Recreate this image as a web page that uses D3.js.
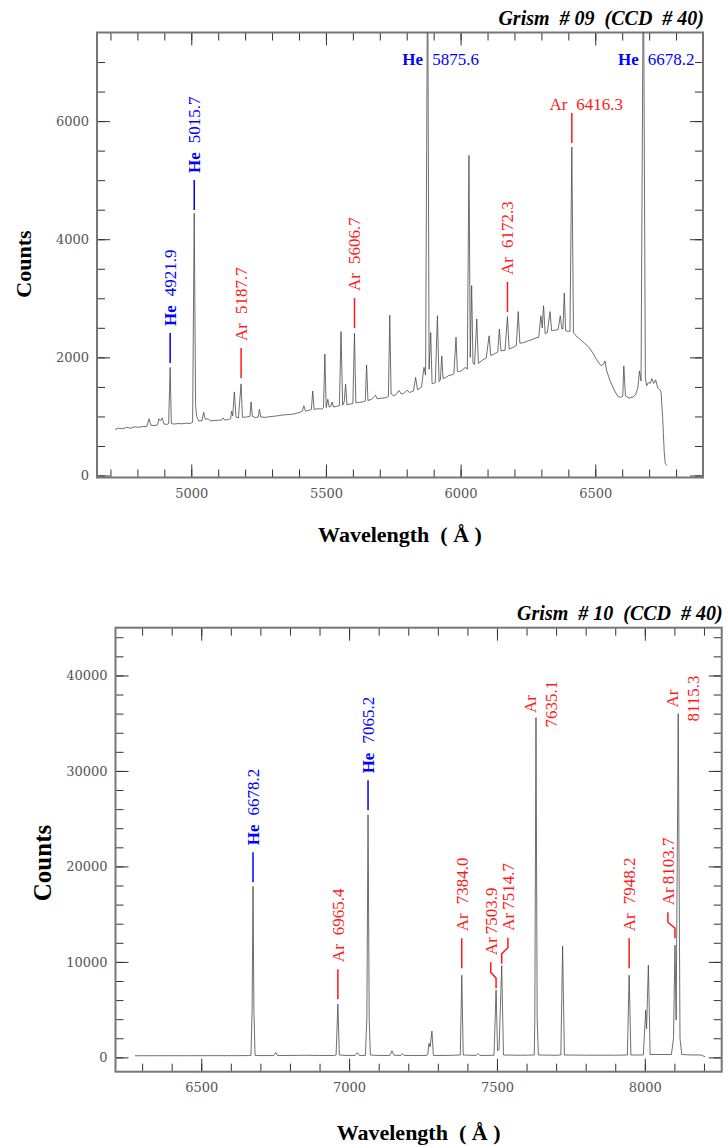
<!DOCTYPE html>
<html>
<head>
<meta charset="utf-8">
<script src="https://cdn.jsdelivr.net/npm/d3@7"></script>
<style>
body { margin: 0; background: #fff; }
svg { display: block; }
text { white-space: pre; }
</style>
</head>
<body>
<svg id="drawing_region"></svg>
<script>
// Grism #09 arc spectrum: [wavelength (A), counts]
const spec09 = [
  [4717, 780], [4730, 800], [4745, 790], [4760, 815], [4775, 800], [4790, 825], [4805, 815], [4820, 830],
  [4835, 830], [4843, 960], [4850, 850], [4865, 845], [4875, 860], [4880, 960], [4886, 925], [4892, 975],
  [4899, 870], [4910, 865], [4916, 880], [4921.6, 1830], [4926, 885], [4935, 870], [4950, 880], [4965, 875],
  [4980, 885], [4995, 880], [5005, 900], [5011, 4440], [5016, 1200], [5020, 1000], [5028, 920], [5040, 930],
  [5046, 1070], [5052, 950], [5062, 960], [5070, 925], [5085, 930], [5100, 935], [5113, 940], [5118, 975],
  [5124, 940], [5138, 945], [5146, 960], [5150, 1090], [5154, 1010], [5160, 1415], [5166, 990], [5175, 975],
  [5185, 1550], [5190, 985], [5205, 990], [5218, 1000], [5222, 1245], [5227, 1000], [5240, 980], [5249, 995],
  [5253, 1120], [5258, 990], [5275, 985], [5300, 1000], [5320, 1010], [5340, 1025], [5360, 1030], [5380, 1040],
  [5395, 1060], [5405, 1070], [5412, 1090], [5418, 1180], [5424, 1090], [5435, 1100], [5446, 1120], [5451, 1430],
  [5456, 1120], [5470, 1130], [5485, 1125], [5491, 1150], [5496, 2055], [5501, 1150], [5507, 1290], [5512, 1160],
  [5518, 1170], [5523, 1245], [5528, 1160], [5540, 1170], [5550, 1180], [5556, 2435], [5562, 1190], [5568, 1250],
  [5573, 1545], [5578, 1200], [5590, 1210], [5600, 1220], [5606, 2407], [5611, 1230], [5625, 1240], [5640, 1250],
  [5646, 1260], [5651, 1870], [5656, 1270], [5670, 1290], [5684, 1360], [5690, 1300], [5710, 1310], [5725, 1320],
  [5732, 1340], [5737, 2715], [5742, 1380], [5752, 1350], [5760, 1370], [5771, 1440], [5780, 1380], [5790, 1390],
  [5802, 1445], [5810, 1405], [5825, 1430], [5833, 1660], [5840, 1450], [5855, 1500], [5864, 1830], [5870, 1700],
  [5877.6, 9000], [5883, 1800], [5889, 2420], [5894, 1560], [5900, 1560], [5906, 1570], [5914, 2705], [5920, 1590],
  [5925, 1620], [5930, 2025], [5935, 1640], [5945, 1660], [5955, 1690], [5965, 1700], [5975, 1720], [5983, 2340],
  [5988, 1760], [5995, 1760], [6005, 1780], [6012, 1810], [6019, 1830], [6025, 1800], [6031, 5420], [6036, 2000],
  [6041, 3215], [6046, 1900], [6052, 1880], [6060, 2650], [6066, 1900], [6080, 1950], [6095, 1990], [6106, 2365],
  [6112, 2030], [6125, 2060], [6138, 2090], [6144, 2480], [6150, 2110], [6165, 2120], [6174, 2690], [6180, 2140],
  [6195, 2170], [6207, 2200], [6214, 2775], [6220, 2240], [6235, 2250], [6250, 2280], [6265, 2300], [6280, 2330],
  [6290, 2340], [6298, 2705], [6303, 2500], [6308, 2875], [6314, 2400], [6322, 2420], [6332, 2775], [6338, 2450],
  [6350, 2460], [6362, 2470], [6370, 2705], [6376, 2480], [6380, 2480], [6385, 3090], [6390, 2450], [6400, 2440],
  [6406, 2440], [6413, 5560], [6419, 2420], [6428, 2365], [6445, 2300], [6460, 2240], [6475, 2180], [6490, 2080],
  [6505, 1960], [6521, 1860], [6530, 1880], [6536, 1940], [6542, 1780], [6555, 1600], [6570, 1450], [6583, 1345],
  [6595, 1320], [6602, 1340], [6606, 1855], [6612, 1350], [6625, 1310], [6640, 1330], [6650, 1370], [6658, 1480],
  [6664, 1770], [6670, 1600], [6678.6, 9000], [6686, 1650], [6691, 1520], [6697, 1575], [6704, 1560], [6710, 1640],
  [6717, 1560], [6724, 1620], [6732, 1480], [6744, 1430], [6750, 1000], [6756, 400], [6760, 200], [6767, 170]
];

// Grism #10 arc spectrum: [wavelength (A), counts]
const spec10 = [
  [6276, 170], [6350, 175], [6450, 175], [6550, 180], [6620, 180], [6660, 190], [6668, 200], [6672, 5000],
  [6675, 17920], [6678, 5000], [6682, 200], [6700, 190], [6745, 190], [6752, 520], [6758, 190], [6800, 200],
  [6850, 220], [6900, 200], [6950, 200], [6956, 250], [6962, 5580], [6967, 250], [6990, 200], [7020, 200],
  [7028, 500], [7035, 200], [7055, 200], [7060, 4000], [7064, 25400], [7068, 4000], [7072, 250], [7100, 200],
  [7138, 200], [7145, 690], [7152, 220], [7175, 200], [7180, 400], [7186, 200], [7260, 200], [7266, 300],
  [7270, 1460], [7274, 1100], [7280, 2750], [7285, 200], [7330, 200], [7376, 250], [7381, 8600], [7386, 250],
  [7430, 200], [7436, 400], [7442, 200], [7490, 220], [7497, 7040], [7502, 700], [7507, 800], [7516, 9600],
  [7522, 250], [7580, 220], [7626, 250], [7628, 4000], [7632, 35600], [7636, 4000], [7640, 250], [7700, 220],
  [7716, 250], [7722, 11640], [7728, 250], [7800, 230], [7900, 230], [7941, 250], [7947, 8600], [7953, 250],
  [7995, 250], [8003, 4950], [8006, 3000], [8012, 9650], [8018, 300], [8090, 300], [8097, 2000], [8102, 11750],
  [8106, 3900], [8113, 36000], [8119, 2000], [8125, 300], [8160, 250], [8190, 250], [8204, 60]
];

// line identifications (wl = line position, at = label level in counts)
const labels09 = [
  { el: 'He', num: '4921.9', wl: 4921.6, at: 1905, kind: 'up' },
  { el: 'He', num: '5015.7', wl: 5011, at: 4495, kind: 'up' },
  { el: 'Ar', num: '5187.7', wl: 5185, at: 1651, kind: 'up' },
  { el: 'Ar', num: '5606.7', wl: 5606, at: 2497, kind: 'up' },
  { el: 'Ar', num: '6172.3', wl: 6174, at: 2768, kind: 'up' },
  { el: 'He', num: '5875.6', wl: 5877.6, at: 6950, kind: 'flat' },
  { el: 'Ar', num: '6416.3', wl: 6413, at: 6188, kind: 'flat', mark: true },
  { el: 'He', num: '6678.2', wl: 6678.6, at: 6950, kind: 'flat' }
];

const labels10 = [
  { el: 'He', num: '6678.2', wl: 6675, at: 18340, kind: 'up' },
  { el: 'Ar', num: '6965.4', wl: 6962, at: 6100, kind: 'up' },
  { el: 'He', num: '7065.2', wl: 7064, at: 25870, kind: 'up' },
  { el: 'Ar', num: '7384.0', wl: 7381, at: 9340, kind: 'up' },
  { el: 'Ar', num: '7503.9', wl: 7497, twl: 7479, at: 7250, kind: 'bent' },
  { el: 'Ar', num: '7514.7', wl: 7516, twl: 7537, at: 9800, kind: 'bent' },
  { el: 'Ar', num: '7635.1', wl: 7632, at: 37000, kind: 'stack' },
  { el: 'Ar', num: '7948.2', wl: 7947, at: 9340, kind: 'up' },
  { el: 'Ar', num: '8103.7', wl: 8102, twl: 8078, at: 12480, kind: 'bent' },
  { el: 'Ar', num: '8115.3', wl: 8112, at: 37580, kind: 'stack' }
];

// tick labels
const xLabels09 = [5000, 5500, 6000, 6500];
const yLabels09 = [0, 2000, 4000, 6000];
const xLabels10 = [6500, 7000, 7500, 8000];
const yLabels10 = [0, 10000, 20000, 30000, 40000];

const svg = d3.select('#drawing_region')
  .attr('width', 727)
  .attr('height', 1146);

const SERIF = '"Liberation Serif", "Times New Roman", serif';

function drawPanel(cfg) {
  const w = cfg.right - cfg.left;
  const h = cfg.bottom - cfg.top;

  const x = d3.scaleLinear().domain(cfg.xdom).range([0, w]);
  const y = d3.scaleLinear().domain(cfg.ydom).range([h, 0]);

  const g = svg.append('g')
    .attr('transform', `translate(${cfg.left},${cfg.top})`);

  g.append('clipPath').attr('id', cfg.id + '_clip')
    .append('rect').attr('width', w).attr('height', h);

  // ticks: inward on all four sides
  const xMinor = d3.range(cfg.xMinor[0], cfg.xdom[1], cfg.xMinor[1]);
  const yMinor = d3.range(0, cfg.ydom[1], cfg.yMinor);
  const axes = [
    [d3.axisBottom(x).tickValues(xMinor).tickSize(-8).tickFormat(''), h],
    [d3.axisBottom(x).tickValues(cfg.xLabels).tickSize(-13).tickPadding(11).tickFormat(d3.format('d')), h],
    [d3.axisTop(x).tickValues(xMinor).tickSize(-8).tickFormat(''), 0],
    [d3.axisTop(x).tickValues(cfg.xLabels).tickSize(-13).tickFormat(''), 0]
  ];
  axes.forEach(([ax, ty]) => {
    g.append('g').attr('class', 'axis').attr('transform', `translate(0,${ty})`).call(ax);
  });
  const yaxes = [
    [d3.axisLeft(y).tickValues(yMinor).tickSize(-8).tickFormat(''), 0],
    [d3.axisLeft(y).tickValues(cfg.yLabels).tickSize(-13).tickPadding(8).tickFormat(d3.format('d')), 0],
    [d3.axisRight(y).tickValues(yMinor).tickSize(-8).tickFormat(''), w],
    [d3.axisRight(y).tickValues(cfg.yLabels).tickSize(-13).tickFormat(''), w]
  ];
  yaxes.forEach(([ax, tx]) => {
    g.append('g').attr('class', 'axis').attr('transform', `translate(${tx},0)`).call(ax);
  });
  g.selectAll('.axis .domain').remove();
  g.selectAll('.axis line').attr('stroke', '#333').attr('stroke-width', 1);
  g.selectAll('.axis text')
    .attr('fill', '#555')
    .attr('font-family', '"DejaVu Serif", serif')
    .attr('font-size', 13);

  // frame
  g.append('rect')
    .attr('width', w).attr('height', h)
    .attr('fill', 'none')
    .attr('stroke', '#777')
    .attr('stroke-width', 2);

  // spectrum
  const line = d3.line().x(d => x(d[0])).y(d => y(d[1]));
  g.append('path')
    .datum(cfg.spec)
    .attr('clip-path', `url(#${cfg.id}_clip)`)
    .attr('fill', 'none')
    .attr('stroke', '#4a4a4a')
    .attr('stroke-width', 0.8)
    .attr('d', line);

  // line identifications
  cfg.labels.forEach(d => {
    const col = d.el === 'He' ? '#0000ff' : '#ff1a1a';
    const bold = d.el === 'He' ? 'bold' : 'normal';
    const px = x(d.wl), py = y(d.at);
    const lg = g.append('g').attr('fill', col).attr('font-family', SERIF).attr('font-size', 17);

    if (d.kind === 'flat') {
      lg.append('text').attr('x', px - 4.5).attr('y', py)
        .attr('text-anchor', 'end').attr('font-weight', bold).text(d.el);
      lg.append('text').attr('x', px + 4.5).attr('y', py)
        .attr('text-anchor', 'start').text(d.num);
      if (d.mark) {
        lg.append('line').attr('x1', px).attr('x2', px)
          .attr('y1', py + 3).attr('y2', py + 33)
          .attr('stroke', col).attr('stroke-width', 1.5);
      }
      return;
    }

    if (d.kind === 'stack') {
      const t = lg.append('text')
        .attr('transform', `translate(${px},${py}) rotate(-90)`)
        .attr('text-anchor', 'middle');
      t.append('tspan').attr('x', 0).attr('y', 0).attr('font-weight', bold).text(d.el);
      t.append('tspan').attr('x', 0).attr('y', 21).text(d.num);
      return;
    }

    let tx = px, ty;
    if (d.kind === 'bent') {
      tx = x(d.twl);
      lg.append('path')
        .attr('d', `M${px},${py}V${py - 10}L${tx},${py - 16}V${py - 26}`)
        .attr('fill', 'none').attr('stroke', col).attr('stroke-width', 1.5);
      ty = py - 33;
    } else {
      lg.append('line').attr('x1', px).attr('x2', px)
        .attr('y1', py).attr('y2', py - 30)
        .attr('stroke', col).attr('stroke-width', 1.5);
      ty = py - 37;
    }
    const t = lg.append('text')
      .attr('transform', `translate(${tx},${ty}) rotate(-90)`)
      .attr('dy', '0.34em');
    t.append('tspan').attr('font-weight', bold).text(d.el);
    t.append('tspan').attr('dx', d.kind === 'bent' ? 3 : 9).text(d.num);
  });

  // title
  svg.append('text')
    .attr('x', cfg.right + 1).attr('y', cfg.top - 7.5)
    .attr('text-anchor', 'end')
    .attr('font-family', SERIF)
    .attr('font-size', 20)
    .attr('font-weight', 'bold')
    .attr('font-style', 'italic')
    .text(cfg.title);

  // axis titles
  svg.append('text')
    .attr('x', (cfg.left + cfg.right) / 2).attr('y', cfg.xTitleY)
    .attr('text-anchor', 'middle')
    .attr('font-family', SERIF)
    .attr('font-size', 22)
    .attr('font-weight', 'bold')
    .text('Wavelength  ( Å )');

  svg.append('text')
    .attr('transform', `translate(${cfg.yTitleX},${cfg.yTitleY}) rotate(-90)`)
    .attr('text-anchor', 'middle')
    .attr('font-family', SERIF)
    .attr('font-size', cfg.yTitleSize)
    .attr('font-weight', 'bold')
    .text('Counts');
}

drawPanel({
  id: 'g09', title: 'Grism  # 09  (CCD  # 40)',
  left: 97, right: 703, top: 32.5, bottom: 477.5,
  xdom: [4650, 6900], ydom: [-34, 7500],
  xMinor: [4700, 100], yMinor: 500,
  xLabels: xLabels09, yLabels: yLabels09,
  spec: spec09, labels: labels09,
  xTitleY: 542, yTitleX: 31, yTitleY: 264, yTitleSize: 22
});

drawPanel({
  id: 'g10', title: 'Grism  # 10  (CCD  # 40)',
  left: 115.5, right: 721.7, top: 627.7, bottom: 1071.7,
  xdom: [6210, 8260], ydom: [-1500, 45000],
  xMinor: [6300, 100], yMinor: 2000,
  xLabels: xLabels10, yLabels: yLabels10,
  spec: spec10, labels: labels10,
  xTitleY: 1140, yTitleX: 51, yTitleY: 863, yTitleSize: 25
});
</script>
</body>
</html>
